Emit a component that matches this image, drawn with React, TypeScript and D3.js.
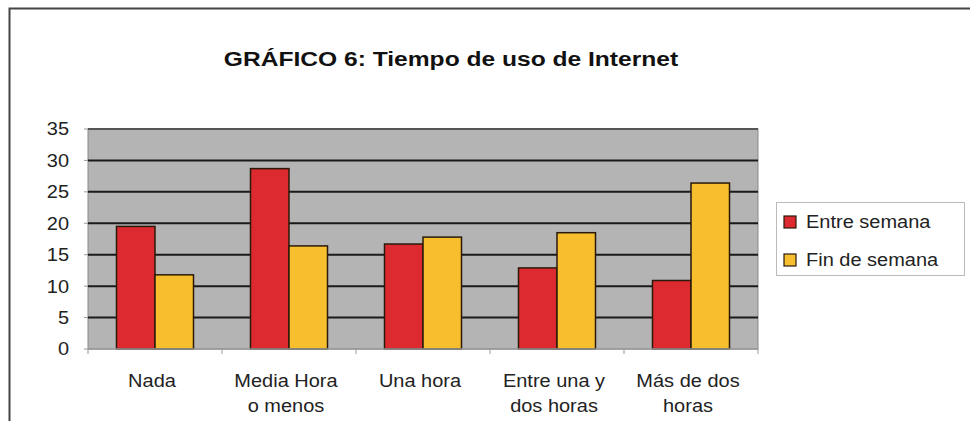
import React, { useEffect, useRef } from 'react';
import * as d3 from 'd3';

// categories (each label split in lines)
const categories = ['Nada', 'Media Hora o menos', 'Una hora', 'Entre una y dos horas', 'Más de dos horas'];
const categoryLines = [['Nada'], ['Media Hora', 'o menos'], ['Una hora'], ['Entre una y', 'dos horas'], ['Más de dos', 'horas']];
const seriesNames = ['Entre semana', 'Fin de semana'];
const entreSemana = [19.5, 28.7, 16.7, 12.9, 10.9];
const finDeSemana = [11.8, 16.4, 17.8, 18.5, 26.4];
const yTicks = [0, 5, 10, 15, 20, 25, 30, 35];
const colors = ['#dd2a30', '#f7bf2e'];

// the original picture is a little stretched sideways, so is its text
const STRETCH = 1.08;
const FONT = 18.5;

export default function App() {
  const svgRef = useRef<SVGSVGElement | null>(null);

  useEffect(() => {
    if (!svgRef.current) return;
    const width = 975;
    const height = 421;
    const margin = { top: 129, right: 217, bottom: 72, left: 88 };

    const svg = d3.select(svgRef.current);
    svg.selectAll('*').remove();
    svg.attr('width', width).attr('height', height)
      .style('font-family', '"Liberation Sans", Arial, sans-serif');

    svg.append('rect').attr('width', width).attr('height', height).attr('fill', '#fff');

    // outer frame (top and left edges visible)
    svg.append('path')
      .attr('d', `M9.5,${height} V8.5 H970`)
      .attr('fill', 'none').attr('stroke', '#444').attr('stroke-width', 2);

    const x0 = d3.scaleBand()
      .domain(categories)
      .range([margin.left, width - margin.right]);
    const x1 = d3.scaleBand()
      .domain(seriesNames)
      .range([0, x0.bandwidth()])
      .paddingOuter(0.74)
      .paddingInner(0);
    const y = d3.scaleLinear()
      .domain([0, 35])
      .range([height - margin.bottom, margin.top]);

    // plot area
    svg.append('rect')
      .attr('x', margin.left).attr('y', margin.top)
      .attr('width', width - margin.left - margin.right)
      .attr('height', y(0) - margin.top)
      .attr('fill', '#b4b4b4')
      .attr('stroke', '#8a8a8a').attr('stroke-width', 1);

    // gridlines
    svg.append('g')
      .selectAll('line')
      .data(yTicks.filter(d => d > 0))
      .join('line')
      .attr('x1', margin.left).attr('x2', width - margin.right)
      .attr('y1', d => y(d)).attr('y2', d => y(d))
      .attr('stroke', d => d === 35 ? '#555' : '#1a1a1a')
      .attr('stroke-width', 2);

    // y axis labels
    svg.append('g')
      .selectAll('text')
      .data(yTicks)
      .join('text')
      .attr('transform', d => `translate(69,${y(d)}) scale(${STRETCH},1)`)
      .attr('dy', '0.35em')
      .attr('text-anchor', 'end')
      .attr('font-size', FONT)
      .attr('fill', '#222')
      .text(d => d);

    // y axis ticks
    svg.append('g')
      .selectAll('line')
      .data(yTicks)
      .join('line')
      .attr('x1', margin.left - 4).attr('x2', margin.left)
      .attr('y1', d => y(d)).attr('y2', d => y(d))
      .attr('stroke', '#999');

    // bars
    const data = categories.map((c, i) => ({ c, values: [entreSemana[i], finDeSemana[i]] }));
    svg.append('g')
      .selectAll('g')
      .data(data)
      .join('g')
      .attr('transform', d => `translate(${x0(d.c)},0)`)
      .selectAll('rect')
      .data(d => d.values.map((v, j) => ({ key: seriesNames[j], v, j })))
      .join('rect')
      .attr('x', d => x1(d.key)!)
      .attr('y', d => y(d.v))
      .attr('width', x1.bandwidth())
      .attr('height', d => y(0) - y(d.v))
      .attr('fill', d => colors[d.j])
      .attr('stroke', '#2a1a0a')
      .attr('stroke-width', 1.5);

    // x axis baseline and ticks
    svg.append('line')
      .attr('x1', margin.left).attr('x2', width - margin.right)
      .attr('y1', y(0)).attr('y2', y(0))
      .attr('stroke', '#999').attr('stroke-width', 1.5);
    const tickXs = categories.map(c => x0(c)!).concat([width - margin.right]);
    svg.append('g')
      .selectAll('line')
      .data(tickXs)
      .join('line')
      .attr('x1', d => d).attr('x2', d => d)
      .attr('y1', y(0)).attr('y2', y(0) + 5)
      .attr('stroke', '#999');

    // x labels
    svg.append('g')
      .selectAll('text')
      .data(categories)
      .join('text')
      .attr('transform', d => `translate(${x0(d)! + x0.bandwidth() / 2 - 3},387) scale(${STRETCH},1)`)
      .attr('text-anchor', 'middle')
      .attr('font-size', FONT)
      .attr('fill', '#222')
      .selectAll('tspan')
      .data((d, i) => categoryLines[i])
      .join('tspan')
      .attr('x', 0)
      .attr('y', (d, i) => i * 25)
      .text(d => d);

    // title
    svg.append('text')
      .attr('transform', `translate(451,66) scale(1.2,1)`)
      .attr('text-anchor', 'middle')
      .attr('font-size', 20.5)
      .attr('font-weight', 'bold')
      .attr('fill', '#111')
      .text('GRÁFICO 6: Tiempo de uso de Internet');

    // legend
    const lg = svg.append('g');
    lg.append('rect')
      .attr('x', 776.5).attr('y', 202.5)
      .attr('width', 188).attr('height', 73)
      .attr('fill', '#fff').attr('stroke', '#bbb');
    lg.selectAll('g')
      .data(seriesNames)
      .join('g')
      .attr('transform', (d, i) => `translate(784,${216 + i * 38})`)
      .call(g => {
        g.append('rect')
          .attr('width', 12).attr('height', 12)
          .attr('fill', (d, i) => colors[i])
          .attr('stroke', '#2a1a0a').attr('stroke-width', 1.2);
        g.append('text')
          .attr('transform', `translate(22,12) scale(${STRETCH},1)`)
          .attr('font-size', FONT)
          .attr('fill', '#222')
          .text(d => d);
      });
  }, []);

  return <svg ref={svgRef} style={{ display: 'block', position: 'absolute', left: 0, top: 0 }}></svg>;
}
